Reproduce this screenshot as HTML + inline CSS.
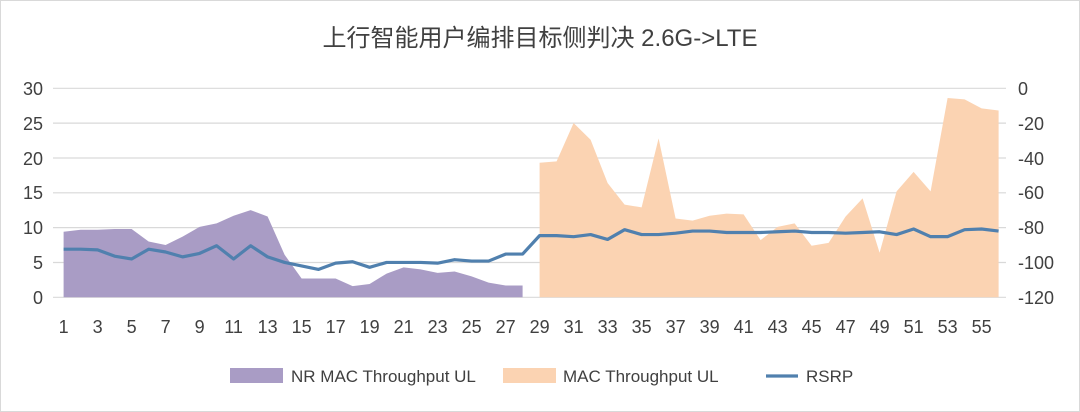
<!DOCTYPE html>
<html><head><meta charset="utf-8"><style>
html,body{margin:0;padding:0;background:#fff}
svg{display:block}
text{font-family:"Liberation Sans","Noto Sans CJK SC",sans-serif;fill:#404040}
</style></head><body>
<svg width="1080" height="412" viewBox="0 0 1080 412" xmlns="http://www.w3.org/2000/svg">
<rect x="0.5" y="0.5" width="1079" height="411" fill="#fff" stroke="#d9d9d9"/>
<text x="540" y="46" text-anchor="middle" font-size="24" style="fill:#404040">上行智能用户编排目标侧判决 2.6G-&gt;LTE</text>
<g stroke="#d9d9d9" stroke-width="1.2">
<line x1="53" x2="1006" y1="88.3" y2="88.3"/>
<line x1="53" x2="1006" y1="123.1" y2="123.1"/>
<line x1="53" x2="1006" y1="158" y2="158"/>
<line x1="53" x2="1006" y1="192.8" y2="192.8"/>
<line x1="53" x2="1006" y1="227.6" y2="227.6"/>
<line x1="53" x2="1006" y1="262.5" y2="262.5"/>
<line x1="53" x2="1006" y1="297.3" y2="297.3"/>
</g>
<g transform="translate(46.6,297.3) scale(17,-6.97)">
<polygon fill="#a99cc5" points="1,0 1,9.4 2,9.7 3,9.7 4,9.8 5,9.8 6,8 7,7.5 8,8.7 9,10.1 10,10.6 11,11.7 12,12.5 13,11.6 14,6.1 15,2.7 16,2.7 17,2.7 18,1.6 19,1.9 20,3.4 21,4.3 22,4 23,3.5 24,3.7 25,3 26,2.1 27,1.7 28,1.7 28,0"/>
<polygon fill="#fbd3b2" points="29,0 29,19.3 30,19.5 31,25 32,22.6 33,16.4 34,13.3 35,12.9 36,22.8 37,11.3 38,11 39,11.7 40,12 41,11.9 42,8.2 43,10.1 44,10.6 45,7.4 46,7.8 47,11.6 48,14.2 49,6.4 50,15.2 51,18 52,15.2 53,28.6 54,28.4 55,27.1 56,26.8 56,0"/>
<polyline fill="none" stroke="#5080ae" stroke-width="3.2" stroke-linejoin="round" vector-effect="non-scaling-stroke" points="1,6.9 2,6.9 3,6.8 4,5.9 5,5.5 6,6.9 7,6.5 8,5.8 9,6.3 10,7.4 11,5.5 12,7.4 13,5.8 14,5 15,4.5 16,4 17,4.9 18,5.1 19,4.3 20,5 21,5 22,5 23,4.9 24,5.4 25,5.2 26,5.2 27,6.2 28,6.2 29,8.85 30,8.85 31,8.7 32,9 33,8.3 34,9.7 35,9 36,9 37,9.2 38,9.5 39,9.5 40,9.3 41,9.3 42,9.3 43,9.4 44,9.5 45,9.3 46,9.3 47,9.2 48,9.3 49,9.4 50,9 51,9.8 52,8.7 53,8.7 54,9.7 55,9.8 56,9.5"/>
</g>
<g font-size="18" text-anchor="end">
<text x="43" y="95">30</text><text x="43" y="130">25</text><text x="43" y="165">20</text>
<text x="43" y="199">15</text><text x="43" y="234">10</text><text x="43" y="269">5</text><text x="43" y="304">0</text>
</g>
<g font-size="18">
<text x="1018" y="95">0</text><text x="1018" y="130">-20</text><text x="1018" y="165">-40</text>
<text x="1018" y="199">-60</text><text x="1018" y="234">-80</text><text x="1018" y="269">-100</text><text x="1018" y="304">-120</text>
</g>
<g font-size="18" text-anchor="middle">
<text x="63.6" y="333">1</text><text x="97.6" y="333">3</text><text x="131.6" y="333">5</text><text x="165.6" y="333">7</text>
<text x="199.6" y="333">9</text><text x="233.6" y="333">11</text><text x="267.6" y="333">13</text><text x="301.6" y="333">15</text>
<text x="335.6" y="333">17</text><text x="369.6" y="333">19</text><text x="403.6" y="333">21</text><text x="437.6" y="333">23</text>
<text x="471.6" y="333">25</text><text x="505.6" y="333">27</text><text x="539.6" y="333">29</text><text x="573.6" y="333">31</text>
<text x="607.6" y="333">33</text><text x="641.6" y="333">35</text><text x="675.6" y="333">37</text><text x="709.6" y="333">39</text>
<text x="743.6" y="333">41</text><text x="777.6" y="333">43</text><text x="811.6" y="333">45</text><text x="845.6" y="333">47</text>
<text x="879.6" y="333">49</text><text x="913.6" y="333">51</text><text x="947.6" y="333">53</text><text x="981.6" y="333">55</text>
</g>
<rect x="230" y="368" width="53" height="15" fill="#a99cc5"/>
<text x="291" y="382" font-size="17">NR MAC Throughput UL</text>
<rect x="503" y="368" width="53" height="15" fill="#fbd3b2"/>
<text x="563" y="382" font-size="17">MAC Throughput UL</text>
<line x1="766" x2="798" y1="376" y2="376" stroke="#5080ae" stroke-width="3.2"/>
<text x="806" y="382" font-size="17">RSRP</text>
</svg>
</body></html>
